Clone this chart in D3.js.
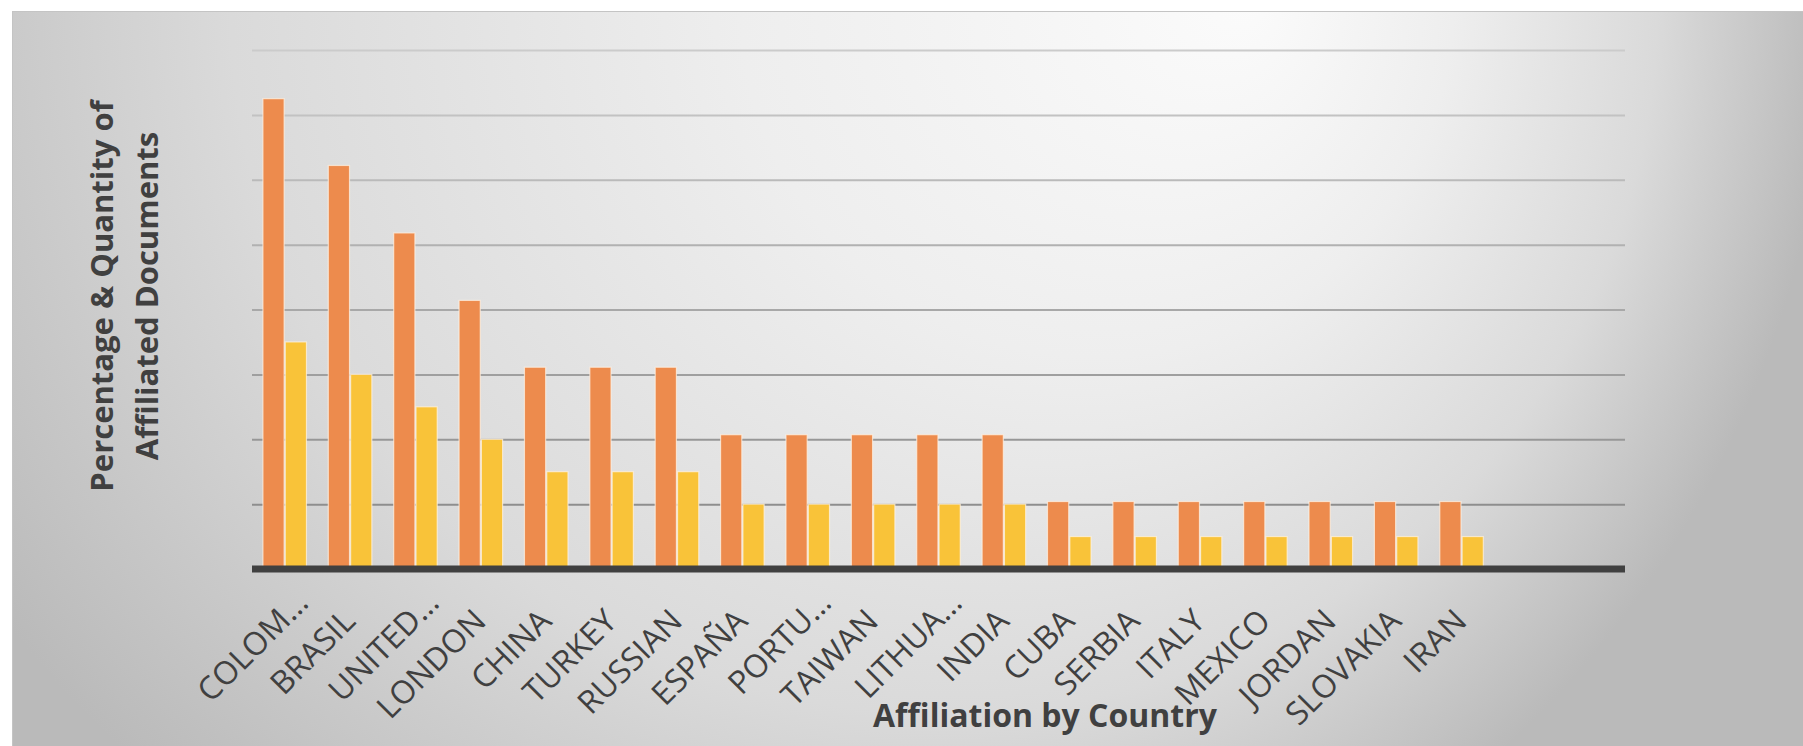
<!DOCTYPE html>
<html>
<head>
<meta charset="utf-8">
<script src="https://cdn.jsdelivr.net/npm/d3@7"></script>
<style>
  body { margin: 0; background: #ffffff; }
  .tick-label { font-family: "Open Sans", sans-serif; font-size: 32px; fill: #404040; }
  .axis-title { font-family: "Open Sans", sans-serif; font-weight: bold; fill: #404040; }
</style>
</head>
<body>
<div class="vis-holder"></div>
<script>
// categories along the x axis (the last two slots are empty in the original chart)
var countries = ["COLOM\u2026", "BRASIL", "UNITED\u2026", "LONDON", "CHINA", "TURKEY", "RUSSIAN",
                 "ESPAÑA", "PORTU\u2026", "TAIWAN", "LITHUA\u2026", "INDIA", "CUBA", "SERBIA",
                 "ITALY", "MEXICO", "JORDAN", "SLOVAKIA", "IRAN", "", ""];

// orange series (taller bars)
var quantityValues = [7.25, 6.22, 5.18, 4.14, 3.11, 3.11, 3.11, 2.07, 2.07, 2.07, 2.07, 2.07,
                      1.04, 1.04, 1.04, 1.04, 1.04, 1.04, 1.04, null, null];

// yellow series
var percentValues = [3.5, 3.0, 2.5, 2.0, 1.5, 1.5, 1.5, 1.0, 1.0, 1.0, 1.0, 1.0,
                     0.5, 0.5, 0.5, 0.5, 0.5, 0.5, 0.5, null, null];

// horizontal gridlines (y axis has no visible labels)
var gridTicks = [1, 2, 3, 4, 5, 6, 7, 8];

var series = ["quantity", "percent"];
var seriesColor = { quantity: "#ED8B4D", percent: "#F9C339" };

var mydata = countries.map(function(c, i) {
  return { idx: i, name: c, quantity: quantityValues[i], percent: percentValues[i] };
});

var width = 1803;
var height = 746;
var margin = { top: 50, bottom: 177, left: 252, right: 178 };

var svg = d3.select(".vis-holder")
            .append("svg")
            .attr("width", width)
            .attr("height", height);

// background gradient of the chart area
var defs = svg.append("defs");
var grad = defs.append("radialGradient")
               .attr("id", "bg")
               .attr("gradientUnits", "userSpaceOnUse")
               .attr("cx", 813).attr("cy", 0).attr("r", 1019)
               .attr("fx", 1250).attr("fy", 0);
grad.append("stop").attr("offset", 0).attr("stop-color", "#fbfbfb");
grad.append("stop").attr("offset", 0.35).attr("stop-color", "#eeeeee");
grad.append("stop").attr("offset", 0.7).attr("stop-color", "#dadada");
grad.append("stop").attr("offset", 1).attr("stop-color", "#bababa");

svg.append("rect")
   .attr("x", 12.5).attr("y", 11.5)
   .attr("width", width - 12).attr("height", height - 11)
   .attr("fill", "url(#bg)")
   .attr("stroke", "#c4c4c4")
   .attr("stroke-width", 1);

// scales
var xScale = d3.scaleBand()
               .domain(mydata.map(function(d) { return d.idx; }))
               .range([margin.left, width - margin.right])
               .paddingInner(0.3)
               .paddingOuter(0.15);

var xSub = d3.scaleBand()
             .domain(series)
             .range([0, xScale.bandwidth()])
             .padding(0.05);

var yScale = d3.scaleLinear()
               .domain([0, 8])
               .range([height - margin.bottom, margin.top]);

// gridlines, a little darker towards the bottom
var gridShade = d3.scaleLinear().domain([8, 1]).range(["#cbcbcb", "#8e8e8e"]);
svg.append("g")
   .attr("transform", `translate(${margin.left}, 0)`)
   .call(d3.axisLeft(yScale).tickValues(gridTicks)
           .tickSize(-(width - margin.left - margin.right)).tickFormat(""))
   .call(function(g) { g.select(".domain").remove(); })
   .call(function(g) {
     g.selectAll(".tick line")
      .attr("stroke", function(d) { return gridShade(d); })
      .attr("stroke-width", 2);
   });

// bars
var groups = svg.append("g")
                .selectAll("g")
                .data(mydata.filter(function(d) { return d.quantity != null; }))
                .enter()
                .append("g")
                .attr("transform", function(d) { return `translate(${xScale(d.idx)}, 0)`; });

groups.selectAll("rect")
      .data(function(d) { return series.map(function(s) { return { key: s, value: d[s] }; }); })
      .enter()
      .append("rect")
      .attr("x", function(d) { return xSub(d.key); })
      .attr("y", function(d) { return yScale(d.value); })
      .attr("width", xSub.bandwidth())
      .attr("height", function(d) { return yScale(0) - yScale(d.value); })
      .attr("fill", function(d) { return seriesColor[d.key]; })
      .attr("stroke", "#fff3e6")
      .attr("stroke-opacity", 0.7)
      .attr("stroke-width", 1.2);

// x axis baseline (thick dark line) and rotated labels
var xAxis = svg.append("g")
               .attr("transform", `translate(0, ${yScale(0)})`)
               .call(d3.axisBottom(xScale).tickSize(0).tickFormat(""));
xAxis.select(".domain")
     .attr("stroke", "#404040")
     .attr("stroke-width", 7)
     .attr("d", `M${margin.left},0H${width - margin.right}`);

// labels end just under the bar group; truncated ones reach a bit further
svg.append("g")
   .selectAll("text")
   .data(mydata)
   .enter()
   .append("text")
   .attr("class", "tick-label")
   .attr("text-anchor", "end")
   .attr("transform", function(d) {
     var cx = xScale(d.idx) + xScale.bandwidth() / 2;
     return `translate(${cx + 7}, ${yScale(0) + 54}) rotate(-45)`;
   })
   .attr("dx", function(d) { return d.name.slice(-1) === "\u2026" ? 26 : 0; })
   .text(function(d) { return d.name; });

// axis titles
svg.append("text")
   .attr("class", "axis-title")
   .attr("font-size", 32)
   .attr("text-anchor", "middle")
   .attr("transform", "translate(1045, 727)")
   .text("Affiliation by Country");

var yTitle = svg.append("text")
                .attr("class", "axis-title")
                .attr("font-size", 31)
                .attr("text-anchor", "middle")
                .attr("transform", "translate(113, 296) rotate(-90)");
yTitle.append("tspan").attr("x", 0).attr("y", 0).text("Percentage & Quantity of");
yTitle.append("tspan").attr("x", 0).attr("y", 45).text("Affiliated Documents");
</script>
</body>
</html>
